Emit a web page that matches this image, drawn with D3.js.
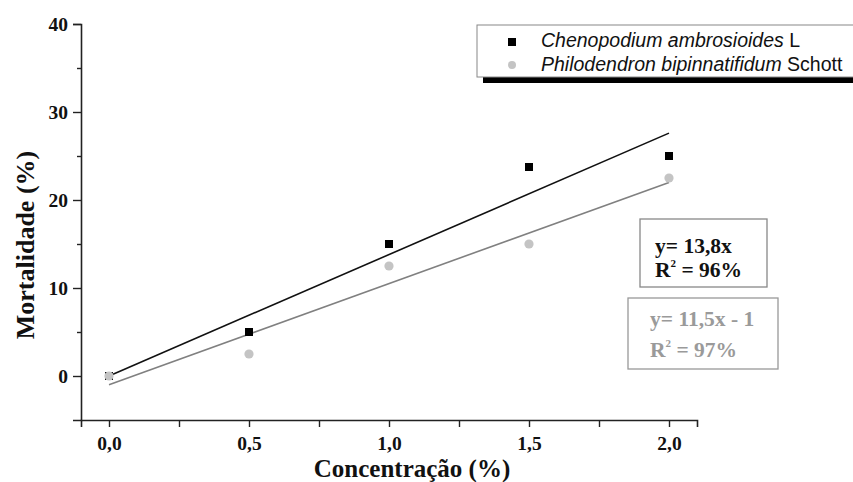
<!DOCTYPE html>
<html>
<head>
<meta charset="utf-8">
<script src="https://cdn.jsdelivr.net/npm/d3@7"></script>
<style>
  body { margin: 0; background: #fff; }
  svg { display: block; }
</style>
</head>
<body>
<div id="chart"></div>
<script>
// dados
const concentracao = [0, 0.5, 1.0, 1.5, 2.0];
const chenopodium = [0, 5, 15, 23.75, 25];
const philodendron = [0, 2.5, 12.5, 15, 22.5];

// regressões (inclinação, intercepto)
const fitChenopodium = [13.8, 0];
const fitPhilodendron = [11.5, -1];

const xTicks = [0, 0.5, 1.0, 1.5, 2.0];
const xMinor = [0.25, 0.75, 1.25, 1.75];
const yTicks = [0, 10, 20, 30, 40];
const yMinor = [5, 15, 25, 35];

const seriesNames = ["Chenopodium ambrosioides", "Philodendron bipinnatifidum"];
const seriesAuthors = ["L", "Schott"];
const eqLines = [["y= 13,8x", "96%"], ["y= 11,5x - 1", "97%"]];

const width = 853;
const height = 482;

const svg = d3.select("#chart")
    .append("svg")
    .attr("width", width)
    .attr("height", height);

const x = d3.scaleLinear().domain([-0.1, 2.1]).range([81, 697]);
const y = d3.scaleLinear().domain([-5, 40]).range([420, 24]);

const fmt = d => d3.format(".1f")(d).replace(".", ",");
const serif = "'Liberation Serif', 'Times New Roman', serif";
const sans = "'Liberation Sans', Arial, sans-serif";

// eixo y
svg.append("g")
    .attr("transform", `translate(${x(-0.1)},0)`)
    .call(d3.axisLeft(y).tickValues(yTicks).tickSize(8).tickPadding(5).tickFormat(d3.format("d")));
svg.append("g")
    .attr("transform", `translate(${x(-0.1)},0)`)
    .call(d3.axisLeft(y).tickValues(yMinor).tickSize(4).tickFormat(""))
    .select(".domain").remove();

// eixo x
svg.append("g")
    .attr("transform", `translate(0,${y(-5)})`)
    .call(d3.axisBottom(x).tickValues(xTicks).tickSize(7).tickPadding(9).tickFormat(fmt));
svg.append("g")
    .attr("transform", `translate(0,${y(-5)})`)
    .call(d3.axisBottom(x).tickValues(xMinor).tickSize(7).tickFormat(""))
    .select(".domain").remove();

svg.selectAll(".domain")
    .attr("stroke", "#222")
    .attr("stroke-width", 1.6);
svg.selectAll(".tick line")
    .attr("stroke", "#222")
    .attr("stroke-width", 1.4);
svg.selectAll(".tick text")
    .attr("font-family", serif)
    .attr("font-weight", "bold")
    .attr("font-size", 19.5)
    .attr("fill", "#111");

// títulos dos eixos
svg.append("text")
    .attr("transform", "translate(34,245) rotate(-90)")
    .attr("text-anchor", "middle")
    .attr("font-family", serif)
    .attr("font-weight", "bold")
    .attr("font-size", 26)
    .attr("fill", "#111")
    .text("Mortalidade (%)");

svg.append("text")
    .attr("x", 412)
    .attr("y", 476.5)
    .attr("text-anchor", "middle")
    .attr("font-family", serif)
    .attr("font-weight", "bold")
    .attr("font-size", 25)
    .attr("fill", "#111")
    .text("Concentração (%)");

// linhas de regressão
const fits = [fitChenopodium, fitPhilodendron];
const lineColors = ["#111", "#808080"];
fits.forEach((f, i) => {
    svg.append("line")
        .attr("x1", x(0))
        .attr("y1", y(f[1]))
        .attr("x2", x(2))
        .attr("y2", y(f[0] * 2 + f[1]))
        .attr("stroke", lineColors[i])
        .attr("stroke-width", 1.6);
});

// pontos
const size = 8;
svg.selectAll(".sq")
    .data(concentracao)
    .enter()
    .append("rect")
    .attr("class", "sq")
    .attr("x", d => x(d) - size / 2)
    .attr("y", (d, i) => y(chenopodium[i]) - size / 2)
    .attr("width", size)
    .attr("height", size)
    .attr("fill", "#000");

svg.selectAll(".pt")
    .data(concentracao)
    .enter()
    .append("circle")
    .attr("class", "pt")
    .attr("cx", d => x(d))
    .attr("cy", (d, i) => y(philodendron[i]))
    .attr("r", 4.6)
    .attr("fill", "#c4c4c4");

// legenda
const leg = svg.append("g");
leg.append("rect")
    .attr("x", 483).attr("y", 77)
    .attr("width", 400).attr("height", 6)
    .attr("fill", "#000");
leg.append("rect")
    .attr("x", 477).attr("y", 25)
    .attr("width", 400).attr("height", 52)
    .attr("fill", "#fff")
    .attr("stroke", "#888")
    .attr("stroke-width", 1);
leg.append("rect")
    .attr("x", 508).attr("y", 38)
    .attr("width", 8).attr("height", 8)
    .attr("fill", "#000");
leg.append("circle")
    .attr("cx", 512).attr("cy", 65)
    .attr("r", 4)
    .attr("fill", "#c4c4c4");

const legY = [47, 71];
seriesNames.forEach((name, i) => {
    const t = leg.append("text")
        .attr("x", 541)
        .attr("y", legY[i])
        .attr("font-family", sans)
        .attr("font-size", 19.5)
        .attr("fill", "#111");
    t.append("tspan").attr("font-style", "italic").text(name + " ");
    t.append("tspan").text(seriesAuthors[i]);
});

// caixas das equações
const boxes = [
    { x: 640, y: 219, w: 127, h: 68, tx: 655, b1: 253, b2: 277, color: "#111", border: "#888" },
    { x: 628, y: 298, w: 150, h: 71, tx: 650, b1: 326, b2: 357, color: "#9a9a9a", border: "#999" }
];
boxes.forEach((b, i) => {
    svg.append("rect")
        .attr("x", b.x).attr("y", b.y)
        .attr("width", b.w).attr("height", b.h)
        .attr("fill", "#fff")
        .attr("stroke", b.border)
        .attr("stroke-width", 1.3);
    svg.append("text")
        .attr("x", b.tx).attr("y", b.b1)
        .attr("font-family", serif)
        .attr("font-weight", "bold")
        .attr("font-size", 21.5)
        .attr("fill", b.color)
        .text(eqLines[i][0]);
    const r = svg.append("text")
        .attr("x", b.tx).attr("y", b.b2)
        .attr("font-family", serif)
        .attr("font-weight", "bold")
        .attr("font-size", 21.5)
        .attr("fill", b.color);
    r.append("tspan").text("R");
    r.append("tspan").attr("font-size", 11).attr("dy", -10).text("2");
    r.append("tspan").attr("dy", 10).text(" = " + eqLines[i][1]);
});
</script>
</body>
</html>
